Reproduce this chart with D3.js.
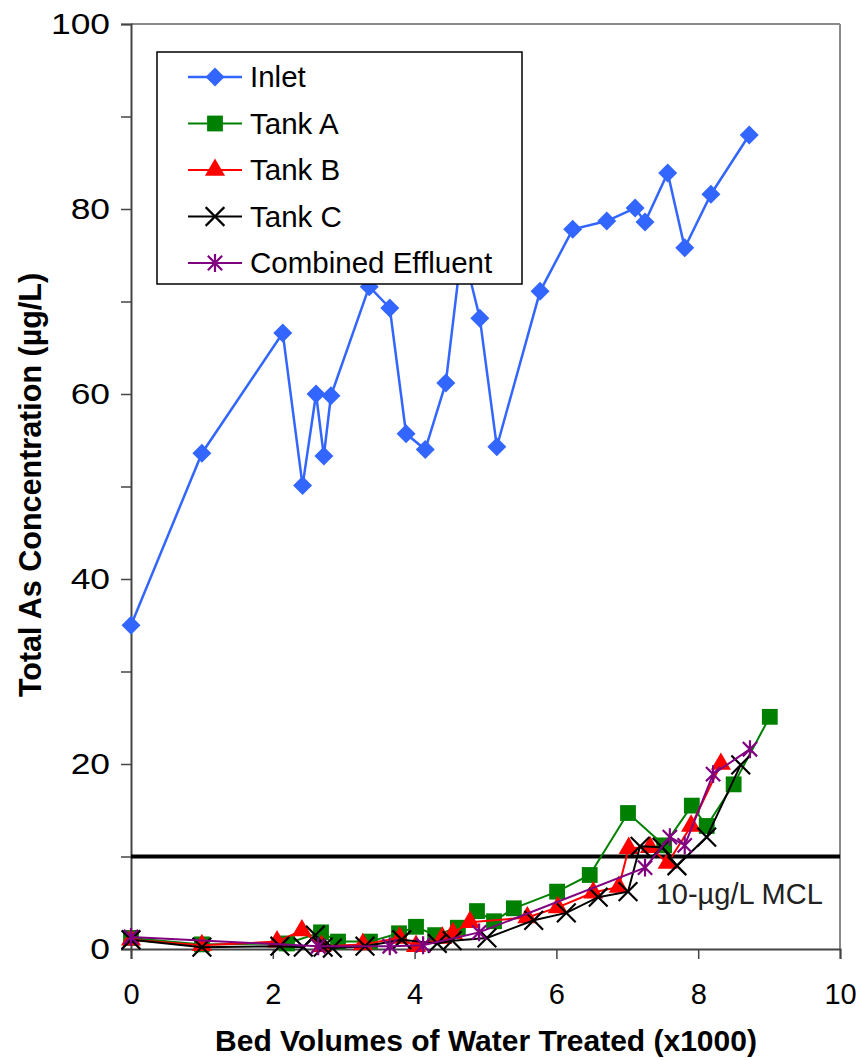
<!DOCTYPE html>
<html>
<head>
<meta charset="utf-8">
<script src="https://cdn.jsdelivr.net/npm/d3@7"></script>
<style>
  body { margin: 0; background: #fff; }
  text { font-family: Arial, "Liberation Sans", sans-serif; }
</style>
</head>
<body>
<svg id="chart" width="860" height="1060"></svg>
<script>
// bed volumes (x1000) and total As (ug/L)
var inletBV = [0, 1.0, 2.14, 2.42, 2.61, 2.72, 2.82, 3.36, 3.65, 3.88, 4.15, 4.44, 4.67, 4.92, 5.16, 5.77, 6.23, 6.71, 7.11, 7.25, 7.57, 7.81, 8.18, 8.72];
var inletAs = [35.0, 53.6, 66.6, 50.1, 60.0, 53.3, 59.8, 71.6, 69.3, 55.7, 54.0, 61.2, 76.0, 68.2, 54.3, 71.1, 77.8, 78.7, 80.1, 78.6, 83.9, 75.8, 81.6, 88.0];

var tankABV = [0, 1.0, 2.2, 2.68, 2.92, 3.37, 3.78, 4.02, 4.29, 4.61, 4.88, 5.12, 5.40, 6.01, 6.47, 7.01, 7.52, 7.91, 8.12, 8.50, 9.01];
var tankAAs = [1.2, 0.5, 0.6, 1.8, 0.8, 0.8, 1.7, 2.4, 1.5, 2.3, 4.1, 3.0, 4.4, 6.2, 8.0, 14.7, 11.2, 15.5, 13.3, 17.8, 25.1];

var tankBBV = [0, 1.0, 2.06, 2.41, 2.69, 3.27, 3.79, 4.02, 4.39, 4.54, 4.78, 5.59, 6.02, 6.52, 6.88, 7.02, 7.32, 7.57, 7.90, 8.32];
var tankBAs = [1.0, 0.4, 0.8, 2.0, 0.3, 0.5, 1.2, 0.3, 1.2, 1.7, 2.9, 3.4, 4.5, 6.1, 6.7, 10.9, 11.0, 9.3, 13.3, 20.0];

var tankCBV = [0, 1.0, 2.1, 2.43, 2.6, 2.71, 2.84, 3.3, 3.82, 4.32, 4.53, 5.02, 5.68, 6.14, 6.59, 7.01, 7.18, 7.49, 7.70, 8.12, 8.6];
var tankCAs = [1.0, 0.2, 0.3, 0.2, 1.5, 0.2, 0.1, 0.3, 1.0, 0.6, 0.9, 1.2, 3.1, 3.9, 5.6, 6.2, 11.1, 11.0, 9.0, 12.1, 19.9];

var combBV = [0, 2.64, 3.65, 4.12, 4.91, 7.25, 7.6, 7.81, 8.21, 8.73];
var combAs = [1.3, 0.3, 0.3, 0.4, 1.8, 8.8, 12.1, 11.2, 18.9, 21.6];

var xTicks = [0, 2, 4, 6, 8, 10];
var yTicks = [0, 20, 40, 60, 80, 100];
var yMinorTicks = [10, 30, 50, 70, 90];
var mcl = 10;

var width = 860, height = 1060;
var margin = {top: 24, right: 20, bottom: 111, left: 131};
var plotW = width - margin.left - margin.right;
var plotH = height - margin.top - margin.bottom;

var svg = d3.select("#chart");
var g = svg.append("g").attr("transform", "translate(" + margin.left + "," + margin.top + ")");

var x = d3.scaleLinear().domain([0, 10]).range([0, plotW]);
var y = d3.scaleLinear().domain([0, 100]).range([plotH, 0]);

// star marker like the spreadsheet one: an X with a vertical bar
var symbolStar = {
  draw: function (ctx, size) {
    var r = Math.sqrt(size) / 2;
    var d = r * 0.8;
    ctx.moveTo(0, -r); ctx.lineTo(0, r);
    ctx.moveTo(-d, -d); ctx.lineTo(d, d);
    ctx.moveTo(-d, d); ctx.lineTo(d, -d);
  }
};

var series = [
  {name: "Inlet", bv: inletBV, as: inletAs, color: "#3366ff", lw: 2.5, sym: d3.symbolDiamond2, size: 230, filled: true},
  {name: "Tank A", bv: tankABV, as: tankAAs, color: "#008000", lw: 2, sym: d3.symbolSquare, size: 250, filled: true},
  {name: "Tank B", bv: tankBBV, as: tankBAs, color: "#ff0000", lw: 2, sym: d3.symbolTriangle, size: 175, filled: true},
  {name: "Tank C", bv: tankCBV, as: tankCAs, color: "#000000", lw: 2, sym: d3.symbolX, size: 230, filled: false},
  {name: "Combined Effluent", bv: combBV, as: combAs, color: "#800080", lw: 2, sym: symbolStar, size: 320, filled: false}
];

// frame (top and right)
g.append("line").attr("x1", 0).attr("x2", plotW).attr("y1", 0).attr("y2", 0)
  .attr("stroke", "#8a8a8a").attr("stroke-width", 2);
g.append("line").attr("x1", plotW).attr("x2", plotW).attr("y1", 0).attr("y2", plotH)
  .attr("stroke", "#8a8a8a").attr("stroke-width", 2);

// y axis
var yAxis = d3.axisLeft(y).tickValues(yTicks).tickSize(10).tickPadding(11);
var yg = g.append("g").call(yAxis);
g.append("g").call(d3.axisLeft(y).tickValues(yMinorTicks).tickSize(10).tickFormat(""))
  .select(".domain").remove();

// x axis
var xAxis = d3.axisBottom(x).tickValues(xTicks).tickSize(10).tickPadding(24);
var xg = g.append("g").attr("transform", "translate(0," + plotH + ")").call(xAxis);

g.selectAll(".domain").attr("stroke", "#444").attr("stroke-width", 2);
g.selectAll(".tick line").attr("stroke", "#444").attr("stroke-width", 1.5);
g.selectAll(".tick text").attr("font-size", 29).attr("fill", "#000")
  .style("font-family", "Arial, 'Liberation Sans', sans-serif");
// the y labels in the figure are drawn wider than the x labels
yg.selectAll(".tick text").each(function () {
  var w = this.getComputedTextLength();
  d3.select(this).attr("textLength", w * 1.22).attr("lengthAdjust", "spacingAndGlyphs");
});

// MCL reference line
g.append("line").attr("x1", 0).attr("x2", plotW).attr("y1", y(mcl)).attr("y2", y(mcl))
  .attr("stroke", "#000").attr("stroke-width", 4);
g.append("text").attr("x", x(7.4)).attr("y", y(mcl) + 47)
  .attr("font-size", 29).attr("fill", "#222").text("10-\u00b5g/L MCL");

// series lines and markers
var line = d3.line().x(function (d) { return x(d[0]); }).y(function (d) { return y(d[1]); });

series.forEach(function (s) {
  var pts = s.bv.map(function (v, i) { return [v, s.as[i]]; });
  g.append("path").datum(pts)
    .attr("d", line).attr("fill", "none")
    .attr("stroke", s.color).attr("stroke-width", s.lw);
  g.selectAll(null).data(pts).enter().append("path")
    .attr("transform", function (d) { return "translate(" + x(d[0]) + "," + y(d[1]) + ")"; })
    .attr("d", d3.symbol().type(s.sym).size(s.size))
    .attr("fill", s.filled ? s.color : "none")
    .attr("stroke", s.filled ? "none" : s.color)
    .attr("stroke-width", s.filled ? 0 : 2.2);
});

// legend
var lg = svg.append("g").attr("transform", "translate(157,52)");
lg.append("rect").attr("width", 365).attr("height", 232)
  .attr("fill", "#fff").attr("stroke", "#000").attr("stroke-width", 1.5);
series.forEach(function (s, i) {
  var row = lg.append("g").attr("transform", "translate(0," + (25 + i * 46.5) + ")");
  row.append("line").attr("x1", 31).attr("x2", 85).attr("stroke", s.color).attr("stroke-width", s.lw);
  row.append("path").attr("transform", "translate(58,0)")
    .attr("d", d3.symbol().type(s.sym).size(s.size))
    .attr("fill", s.filled ? s.color : "none")
    .attr("stroke", s.filled ? "none" : s.color)
    .attr("stroke-width", s.filled ? 0 : 2.2);
  row.append("text").attr("x", 93).attr("y", 10).attr("font-size", 29.5).text(s.name);
});

// axis titles
svg.append("text").attr("x", 486).attr("y", 1051).attr("text-anchor", "middle")
  .attr("font-size", 30).attr("font-weight", "bold").text("Bed Volumes of Water Treated (x1000)");
svg.append("text").attr("transform", "translate(41,485) rotate(-90)").attr("text-anchor", "middle")
  .attr("font-size", 30.5).attr("font-weight", "bold").text("Total As Concentration (\u00b5g/L)");
</script>
</body>
</html>
